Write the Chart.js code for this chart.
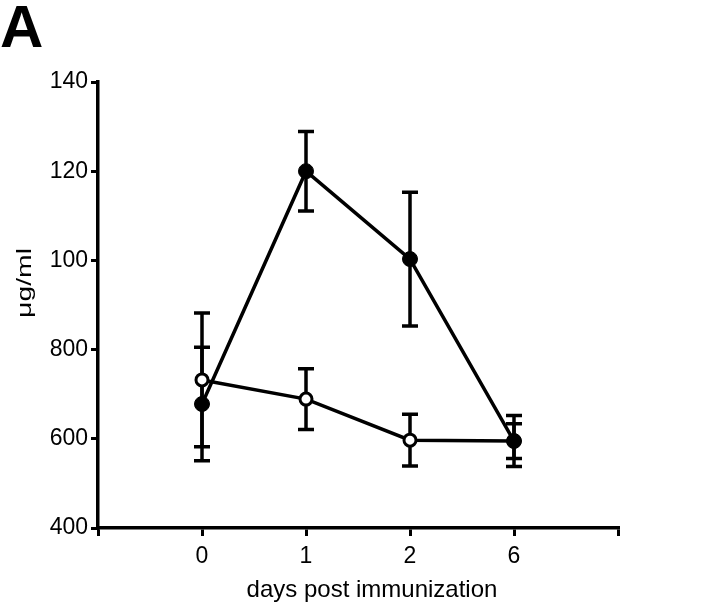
<!DOCTYPE html>
<html><head><meta charset="utf-8">
<script src="https://cdn.jsdelivr.net/npm/chart.js@4"></script>
<style>html,body{margin:0;padding:0;background:#fff}canvas{display:block}</style>
</head><body>
<canvas id="c" width="720" height="610"></canvas>
<script>
const panelLabel = 'A';
const xTitle = 'days post immunization';
const yTitle = 'μg/ml';
const dayLabels = ['0', '1', '2', '6'];
const filledMean = [67.8, 120, 100.3, 59.5];
const filledErr = [12.7, 8.9, 15, 3.9];
const openMean = [73.2, 68.9, 59.7, 59.5];
const openErr = [15, 6.8, 5.8, 5.7];
const yTickValues = [40, 60, 80, 100, 120, 140];
const yTickLabels = ['400', '600', '800', '100', '120', '140'];

const FONT = '"Liberation Sans", Arial, sans-serif';

const errorBars = {
  id: 'errorBars',
  beforeDatasetsDraw(chart) {
    const {ctx, scales: {x, y}} = chart;
    const sets = [[openMean, openErr], [filledMean, filledErr]];
    ctx.save();
    ctx.strokeStyle = '#000';
    ctx.lineWidth = 3.5;
    sets.forEach(([m, e]) => {
      m.forEach((v, i) => {
        const px = x.getPixelForValue(i);
        const t = y.getPixelForValue(v + e[i]);
        const b = y.getPixelForValue(v - e[i]);
        ctx.beginPath();
        ctx.moveTo(px, t); ctx.lineTo(px, b);
        ctx.moveTo(px - 8, t); ctx.lineTo(px + 8, t);
        ctx.moveTo(px - 8, b); ctx.lineTo(px + 8, b);
        ctx.stroke();
      });
    });
    ctx.restore();
  }
};

const texts = {
  id: 'texts',
  afterDraw(chart) {
    const {ctx} = chart;
    ctx.save();
    ctx.fillStyle = '#000';
    ctx.font = 'bold 60px ' + FONT;
    ctx.textAlign = 'left';
    ctx.textBaseline = 'alphabetic';
    ctx.fillText(panelLabel, 0, 47);
    ctx.font = '24px ' + FONT;
    ctx.textAlign = 'center';
    ctx.fillText(xTitle, 372, 597);
    ctx.translate(31, 283);
    ctx.rotate(-Math.PI / 2);
    ctx.scale(1.35, 1);
    ctx.font = '21px ' + FONT;
    ctx.textAlign = 'center';
    ctx.fillText(yTitle, 0, 0);
    ctx.restore();
  }
};

new Chart(document.getElementById('c'), {
  type: 'line',
  data: {
    datasets: [
      {
        data: filledMean.map((v, i) => ({x: i, y: v})),
        borderColor: '#000', borderWidth: 3.5, tension: 0,
        pointRadius: 7.5, pointBorderWidth: 1,
        pointBackgroundColor: '#000', pointBorderColor: '#000'
      },
      {
        data: openMean.map((v, i) => ({x: i, y: v})),
        borderColor: '#000', borderWidth: 3.5, tension: 0,
        pointRadius: 6, pointBorderWidth: 3,
        pointBackgroundColor: '#fff', pointBorderColor: '#000'
      }
    ]
  },
  options: {
    responsive: false,
    animation: false,
    devicePixelRatio: 1,
    layout: {padding: {top: 82, right: 102, bottom: 0, left: 0}},
    plugins: {legend: {display: false}, tooltip: {enabled: false}},
    scales: {
      x: {
        type: 'linear', min: -1, max: 4,
        afterBuildTicks: s => { s.ticks = [-1, 0, 1, 2, 3, 4].map(v => ({value: v})); },
        afterFit: s => { s.height = 82; },
        ticks: {
          color: '#000', font: {family: FONT, size: 23}, padding: 7, maxRotation: 0,
          callback: v => (v >= 0 && v <= 3 ? dayLabels[v] : '')
        },
        grid: {drawOnChartArea: false, drawTicks: true, tickLength: 8, color: '#000', lineWidth: 3},
        border: {color: '#000', width: 3.5}
      },
      y: {
        type: 'linear', min: 40, max: 140,
        afterBuildTicks: s => { s.ticks = yTickValues.map(v => ({value: v})); },
        afterFit: s => { s.width = 98; },
        ticks: {
          color: '#000', font: {family: FONT, size: 23}, padding: 3,
          callback: v => yTickLabels[yTickValues.indexOf(v)]
        },
        grid: {drawOnChartArea: false, drawTicks: true, tickLength: 7, color: '#000', lineWidth: 3},
        border: {color: '#000', width: 3.5}
      }
    }
  },
  plugins: [errorBars, texts]
});
</script>
</body></html>
